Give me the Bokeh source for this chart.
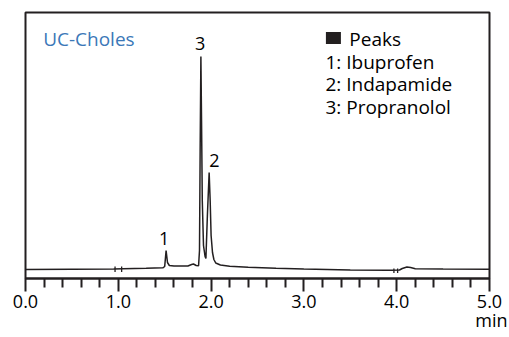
from bokeh.plotting import figure
from bokeh.models import Range1d, FixedTicker, Label, Title
from bokeh.embed import file_html
from bokeh.resources import INLINE

# Chromatogram trace: retention time (min) and detector signal (arbitrary units)
time_min = [0.00, 0.50, 0.95, 1.05, 1.30, 1.48, 1.50, 1.515, 1.53, 1.55,
            1.60, 1.75, 1.79, 1.81, 1.84, 1.865, 1.875, 1.882, 1.890, 1.897,
            1.905, 1.918, 1.935, 1.944, 1.960, 1.979, 1.990, 2.000, 2.015, 2.030,
            2.050, 2.100, 2.200, 2.400, 2.700, 3.000, 3.500, 3.900, 3.950, 4.030,
            4.060, 4.110, 4.150, 4.200, 4.500, 5.000]
signal = [-0.5, -0.3, 0.0, 0.2, 0.7, 1.2, 2.5, 18.5, 6.5, 3.5,
          2.9, 3.0, 4.5, 5.0, 3.5, 3.2, 18.5, 118.5, 212.5, 148.5,
          68.5, 23.5, 12.5, 10.5, 53.5, 96.5, 68.5, 33.5, 16.5, 9.5,
          6.0, 4.0, 2.7, 1.7, 0.7, -0.1, -1.0, -1.3, -1.3, -1.0,
          0.5, 2.0, 1.5, 0.2, -0.1, -0.3]

# Short break marks on the baseline
break_time = [0.965, 1.036, 3.970, 4.010]
break_low = [-3.0, -3.0, -4.0, -4.0]
break_high = [2.5, 2.5, 0.5, 0.5]

# Peak numbers drawn above each peak
peak_ids = ["1", "2", "3"]
peak_label_time = [1.494, 2.035, 1.882]
peak_label_signal = [30.5, 108.5, 225.5]

# Compound key
legend_title = "Peaks"
compounds = ["1: Ibuprofen", "2: Indapamide", "3: Propranolol"]

column_name = "UC-Choles"

major_ticks = [0, 1, 2, 3, 4, 5]
minor_ticks = [0.2, 0.4, 0.6, 0.8, 1.2, 1.4, 1.6, 1.8, 2.2, 2.4, 2.6, 2.8,
               3.2, 3.4, 3.6, 3.8, 4.2, 4.4, 4.6, 4.8]
tick_labels = ["0.0", "1.0", "2.0", "3.0", "4.0", "5.0"]
x_unit = "min"

INK = "#231f20"
FONT = "Open Sans"
TICK_SIZE = "18px"
NOTE_SIZE = "19px"

p = figure(width=509, height=337, output_backend="svg", toolbar_location=None,
           x_range=Range1d(0, 5), y_range=Range1d(-9.5, 256.5),
           y_axis_location=None,
           min_border_left=25, min_border_right=20,
           min_border_top=12, min_border_bottom=59)
p.xgrid.visible = False
p.ygrid.visible = False
p.background_fill_color = "white"
p.border_fill_color = "white"
p.outline_line_color = INK
p.outline_line_width = 2

ax = p.xaxis[0]
ax.ticker = FixedTicker(ticks=major_ticks, minor_ticks=minor_ticks)
ax.major_label_overrides = {t: s for t, s in zip(major_ticks, tick_labels)}
ax.axis_line_color = INK
ax.axis_line_width = 2
ax.major_tick_in = 0
ax.major_tick_out = 13
ax.minor_tick_in = 0
ax.minor_tick_out = 9
ax.major_tick_line_color = INK
ax.minor_tick_line_color = INK
ax.major_tick_line_width = 2
ax.minor_tick_line_width = 2
ax.major_label_standoff = 3
ax.major_label_text_font = FONT
ax.major_label_text_font_size = TICK_SIZE
ax.major_label_text_color = "black"

# Unit caption under the right end of the time axis (tight standoff keeps
# the bottom panel within the border)
unit_title = Title(text=x_unit, align="right", offset=-18, standoff=-10,
                   text_font=FONT, text_font_size=TICK_SIZE, text_font_style="normal",
                   text_color="black", text_baseline="alphabetic")
p.add_layout(unit_title, "below")

p.line(time_min, signal, line_color=INK, line_width=1.5)
p.segment(x0=break_time, y0=break_low, x1=break_time, y1=break_high,
          line_color=INK, line_width=1.3)

for pid, t, s in zip(peak_ids, peak_label_time, peak_label_signal):
    p.add_layout(Label(x=t, y=s, text=pid, text_font=FONT, text_font_size=TICK_SIZE,
                       text_color="black", text_align="center", text_baseline="middle"))

p.add_layout(Label(x=0.19, y=230.5, text=column_name, text_font=FONT,
                   text_font_size=NOTE_SIZE, text_color="#3b78b8",
                   text_align="left", text_baseline="middle"))

# Key: filled swatch with title, then one line per compound
p.rect(x=[3.318], y=[231.0], width=15, height=12, width_units="screen",
       height_units="screen", fill_color=INK, line_color=None)
p.add_layout(Label(x=3.49, y=230.5, text=legend_title, text_font=FONT,
                   text_font_size=NOTE_SIZE, text_color="black",
                   text_align="left", text_baseline="middle"))
for i, name in enumerate(compounds):
    p.add_layout(Label(x=3.232, y=207.5 - 22.5 * i, text=name, text_font=FONT,
                       text_font_size=NOTE_SIZE, text_color="black",
                       text_align="left", text_baseline="middle"))

open("out.html", "w").write(file_html(p, INLINE))
